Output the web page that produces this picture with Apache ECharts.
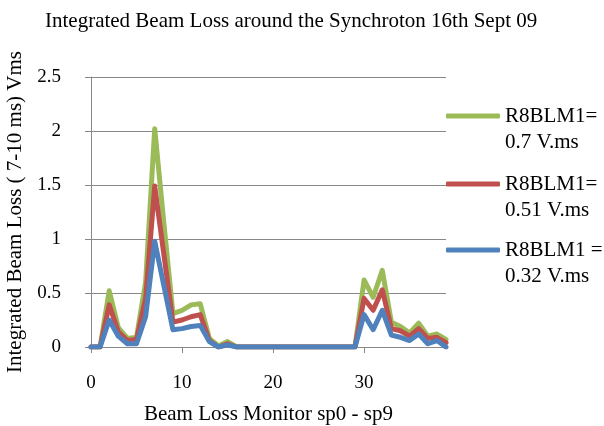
<!DOCTYPE html>
<html>
<head>
<meta charset="utf-8">
<script src="https://cdn.jsdelivr.net/npm/echarts@6/dist/echarts.min.js"></script>
<style>
  html, body { margin: 0; padding: 0; background: #fff; }
  #chart { width: 604px; height: 426px; }
</style>
</head>
<body>
<div id="chart"></div>
<script>
// monitor index along the ring
const monitors = [
  0, 1, 2, 3, 4, 5, 6, 7, 8, 9,
  10, 11, 12, 13, 14, 15, 16, 17, 18, 19,
  20, 21, 22, 23, 24, 25, 26, 27, 28, 29,
  30, 31, 32, 33, 34, 35, 36, 37, 38, 39
];

const seriesNames = ['R8BLM1=\n0.7 V.ms', 'R8BLM1=\n0.51 V.ms', 'R8BLM1 =\n0.32 V.ms'];

const loss070 = [
  0, 0, 0.52, 0.18, 0.08, 0.09, 0.6, 2.02, 1.15, 0.31,
  0.34, 0.39, 0.40, 0.08, 0.01, 0.05, 0, 0, 0, 0,
  0, 0, 0, 0, 0, 0, 0, 0, 0, 0,
  0.62, 0.46, 0.71, 0.23, 0.19, 0.13, 0.22, 0.10, 0.12, 0.07
];
const loss051 = [
  0, 0, 0.39, 0.14, 0.06, 0.07, 0.45, 1.49, 0.86, 0.23,
  0.25, 0.28, 0.30, 0.06, 0, 0.03, 0, 0, 0, 0,
  0, 0, 0, 0, 0, 0, 0, 0, 0, 0,
  0.45, 0.34, 0.53, 0.17, 0.15, 0.10, 0.17, 0.08, 0.09, 0.04
];
const loss032 = [
  0, 0, 0.25, 0.10, 0.03, 0.03, 0.28, 0.98, 0.57, 0.16,
  0.17, 0.19, 0.20, 0.05, 0, 0.02, 0, 0, 0, 0,
  0, 0, 0, 0, 0, 0, 0, 0, 0, 0,
  0.30, 0.16, 0.34, 0.11, 0.09, 0.06, 0.12, 0.03, 0.06, 0
];

const xTicks = [0, 10, 20, 30];

const colors = ['#9BBB59', '#C0504D', '#4F81BD'];
const allLoss = [loss070, loss051, loss032];
// legend line sits on the first text line: 3 lines of 26px, icon in the middle
const legendTops = [77, 145, 211];

const font = "'Liberation Serif', 'Times New Roman', serif";

const chart = echarts.init(document.getElementById('chart'));

const option = {
  animation: false,
  textStyle: { fontFamily: font, color: '#000' },
  title: {
    text: 'Integrated Beam Loss around the Synchroton 16th Sept 09',
    left: 40,
    top: 6,
    textStyle: { fontFamily: font, fontSize: 21, fontWeight: 'normal', color: '#000' }
  },
  legend: seriesNames.map((name, i) => ({
    data: [name],
    left: 446,
    top: legendTops[i],
    padding: 0,
    icon: 'roundRect',
    itemWidth: 54,
    itemHeight: 5,
    formatter: n => '\n' + n,
    textStyle: {
      fontFamily: font,
      fontSize: 21,
      color: '#000',
      lineHeight: 26
    }
  })),
  grid: { left: 91, right: 158, top: 77, bottom: 79, outerBoundsMode: 'none' },
  xAxis: {
    type: 'value',
    min: 0,
    max: 39,
    interval: 10,
    name: 'Beam Loss Monitor sp0 - sp9',
    nameLocation: 'middle',
    nameGap: 57,
    nameTextStyle: { fontFamily: font, fontSize: 21, color: '#000' },
    axisLine: { show: true, lineStyle: { color: '#888', width: 1 } },
    axisTick: { show: true, length: 6, lineStyle: { color: '#888' }, customValues: xTicks },
    axisLabel: { fontFamily: font, fontSize: 19, color: '#000', margin: 27, customValues: xTicks },
    splitLine: { show: false }
  },
  yAxis: {
    type: 'value',
    min: 0,
    max: 2.5,
    interval: 0.5,
    name: 'Integrated Beam Loss ( 7-10 ms) Vms',
    nameLocation: 'middle',
    nameGap: 61,
    nameTextStyle: { fontFamily: font, fontSize: 21, color: '#000' },
    axisLine: { show: true, lineStyle: { color: '#888', width: 1 } },
    axisTick: { show: true, length: 6, lineStyle: { color: '#888' } },
    axisLabel: { fontFamily: font, fontSize: 19, color: '#000', margin: 30 },
    splitLine: { show: true, lineStyle: { color: '#888', width: 1 } }
  },
  series: seriesNames.map((name, i) => ({
    name: name,
    type: 'line',
    showSymbol: false,
    symbol: 'none',
    color: colors[i],
    lineStyle: { width: 5, color: colors[i], join: 'round', cap: 'round' },
    data: monitors.map((m, k) => [m, allLoss[i][k]])
  }))
};

chart.setOption(option);
</script>
</body>
</html>
